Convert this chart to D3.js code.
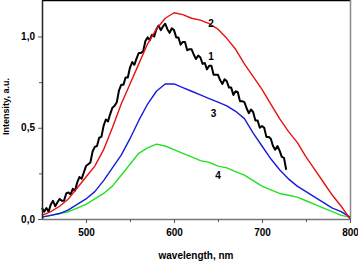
<!DOCTYPE html>
<html>
<head>
<meta charset="utf-8">
<script src="https://cdn.jsdelivr.net/npm/d3@7"></script>
<style>
  body { margin: 0; background: #fff; }
  text { font-family: "Liberation Sans", Arial, sans-serif; font-weight: bold; }
</style>
</head>
<body>
<svg id="chart"></svg>
<script>
// wavelength grid for smooth curves (nm)
const wl = d3.range(450, 801, 10);
// curve 2 (red)
const curve2 = [0.02, 0.04, 0.07, 0.11, 0.17, 0.23, 0.29, 0.38, 0.50, 0.63, 0.74, 0.85, 0.96, 1.04, 1.10, 1.13,
  1.12, 1.10, 1.09, 1.07, 1.04, 0.99, 0.93, 0.85, 0.78, 0.71, 0.63, 0.55, 0.48, 0.42, 0.34, 0.27, 0.20, 0.13, 0.07, 0.00];
// curve 3 (blue)
const curve3 = [0.01, 0.02, 0.03, 0.05, 0.08, 0.11, 0.15, 0.21, 0.28, 0.35, 0.44, 0.54, 0.63, 0.70, 0.74, 0.74,
  0.72, 0.70, 0.68, 0.66, 0.64, 0.62, 0.59, 0.55, 0.47, 0.40, 0.33, 0.27, 0.22, 0.18, 0.15, 0.12, 0.09, 0.06, 0.04, 0.01];
// curve 4 (green)
const curve4 = [0.01, 0.02, 0.03, 0.04, 0.06, 0.08, 0.11, 0.14, 0.18, 0.24, 0.30, 0.36, 0.39, 0.41, 0.40, 0.38,
  0.36, 0.34, 0.32, 0.31, 0.29, 0.28, 0.26, 0.24, 0.21, 0.18, 0.16, 0.14, 0.13, 0.12, 0.10, 0.08, 0.06, 0.04, 0.02, 0.01];
// curve 1 (black, noisy), 2.5 nm step from 450
const wl1 = d3.range(450, 728, 2.5);
const curve1 = [0.06, 0.04, 0.06, 0.04, 0.08, 0.10, 0.07, 0.09, 0.11, 0.10, 0.10, 0.14, 0.145, 0.135, 0.165, 0.155,
  0.20, 0.23, 0.22, 0.255, 0.29, 0.30, 0.31, 0.37, 0.395, 0.40, 0.445, 0.45, 0.51, 0.545, 0.535, 0.575,
  0.61, 0.62, 0.64, 0.705, 0.735, 0.735, 0.775, 0.775, 0.83, 0.86, 0.845, 0.88, 0.91, 0.91, 0.92, 0.975,
  0.995, 0.98, 1.01, 1.00, 1.04, 1.06, 1.035, 1.055, 1.07, 1.04, 1.02, 1.045, 1.035, 0.995, 0.995, 0.955,
  0.97, 0.97, 0.925, 0.93, 0.93, 0.90, 0.877, 0.896, 0.885, 0.85, 0.855, 0.82, 0.84, 0.84, 0.79, 0.79,
  0.79, 0.76, 0.74, 0.766, 0.755, 0.72, 0.72, 0.68, 0.70, 0.695, 0.645, 0.645, 0.64, 0.607, 0.58, 0.60,
  0.585, 0.54, 0.54, 0.50, 0.51, 0.50, 0.45, 0.45, 0.44, 0.40, 0.38, 0.40, 0.375, 0.34, 0.335, 0.27];
const xTicks = [500, 600, 700, 800];
const yTicks = [0, 0.5, 1.0];
const labels = [
  {name: "2", w: 642, v: 1.07},
  {name: "1", w: 642, v: 0.89},
  {name: "3", w: 645, v: 0.58},
  {name: "4", w: 650, v: 0.24}
];

const width = 358, height = 262;
const margin = {top: 0, right: 8, bottom: 43, left: 42};

const svg = d3.select("#chart").attr("width", width).attr("height", height);

const x = d3.scaleLinear().domain([450, 800]).range([margin.left, width - margin.right]);
const y = d3.scaleLinear().domain([0, 1.2]).range([height - margin.bottom, margin.top]);

// frame: top black, right grey
svg.append("line").attr("x1", x(450)).attr("x2", x(800)).attr("y1", y(1.2) + 0.5).attr("y2", y(1.2) + 0.5)
  .attr("stroke", "#000").attr("stroke-width", 1.5);
svg.append("line").attr("x1", x(800) + 0.5).attr("x2", x(800) + 0.5).attr("y1", y(1.2)).attr("y2", y(0))
  .attr("stroke", "#888").attr("stroke-width", 1.5);

const line = d3.line().x(d => x(d[0])).y(d => y(d[1]));

const series = [
  {w: wl1, v: curve1, color: "#000", sw: 2},
  {w: wl, v: curve2, color: "#e81010", sw: 1.4},
  {w: wl, v: curve3, color: "#1a1ad8", sw: 1.4},
  {w: wl, v: curve4, color: "#22e022", sw: 1.4}
];
// green and blue first, then black, red on top
const order = [3, 2, 0, 1];
order.forEach(i => {
  const s = series[i];
  svg.append("path")
    .datum(s.w.map((w, j) => [w, s.v[j]]))
    .attr("fill", "none")
    .attr("stroke", s.color)
    .attr("stroke-width", s.sw)
    .attr("stroke-linejoin", "round")
    .attr("d", line);
});

// axes
const xAxis = svg.append("g")
  .attr("transform", `translate(0,${y(0)})`)
  .call(d3.axisBottom(x).tickValues(xTicks).tickSize(4).tickPadding(6).tickSizeOuter(0));
svg.append("g")
  .attr("transform", `translate(0,${y(0)})`)
  .call(d3.axisBottom(x).tickValues([550, 650, 750]).tickSize(3).tickFormat("").tickSizeOuter(0))
  .select(".domain").remove();
xAxis.select(".domain").attr("stroke", "#777").attr("stroke-width", 1.5);

const yAxis = svg.append("g")
  .attr("transform", `translate(${x(450)},0)`)
  .call(d3.axisLeft(y).tickValues(yTicks).tickSize(4).tickPadding(3).tickSizeOuter(0)
    .tickFormat(d => d3.format(".1f")(d).replace(".", ",")));
svg.append("g")
  .attr("transform", `translate(${x(450)},0)`)
  .call(d3.axisLeft(y).tickValues([0.25, 0.75]).tickSize(3).tickFormat("").tickSizeOuter(0))
  .select(".domain").remove();
yAxis.select(".domain").attr("stroke", "#222").attr("stroke-width", 1.5);

svg.selectAll(".tick text").attr("font-size", 10).attr("font-family", "Liberation Sans, Arial, sans-serif")
  .attr("font-weight", "bold").attr("fill", "#000");
svg.selectAll(".tick line").attr("stroke", "#555");

// curve labels
svg.selectAll(".lbl").data(labels).join("text")
  .attr("class", "lbl")
  .attr("x", d => x(d.w))
  .attr("y", d => y(d.v))
  .attr("font-size", 10)
  .attr("text-anchor", "middle")
  .attr("dy", "0.35em")
  .text(d => d.name);

// axis titles
svg.append("text")
  .attr("x", (x(450) + x(800)) / 2)
  .attr("y", height - 3)
  .attr("text-anchor", "middle")
  .attr("font-size", 10)
  .text("wavelength, nm");
svg.append("text")
  .attr("transform", "rotate(-90)")
  .attr("x", -(y(0) + y(1.2)) / 2 + 3)
  .attr("y", 9)
  .attr("text-anchor", "middle")
  .attr("font-size", 9)
  .text("Intensity, a.u.");
</script>
</body>
</html>
